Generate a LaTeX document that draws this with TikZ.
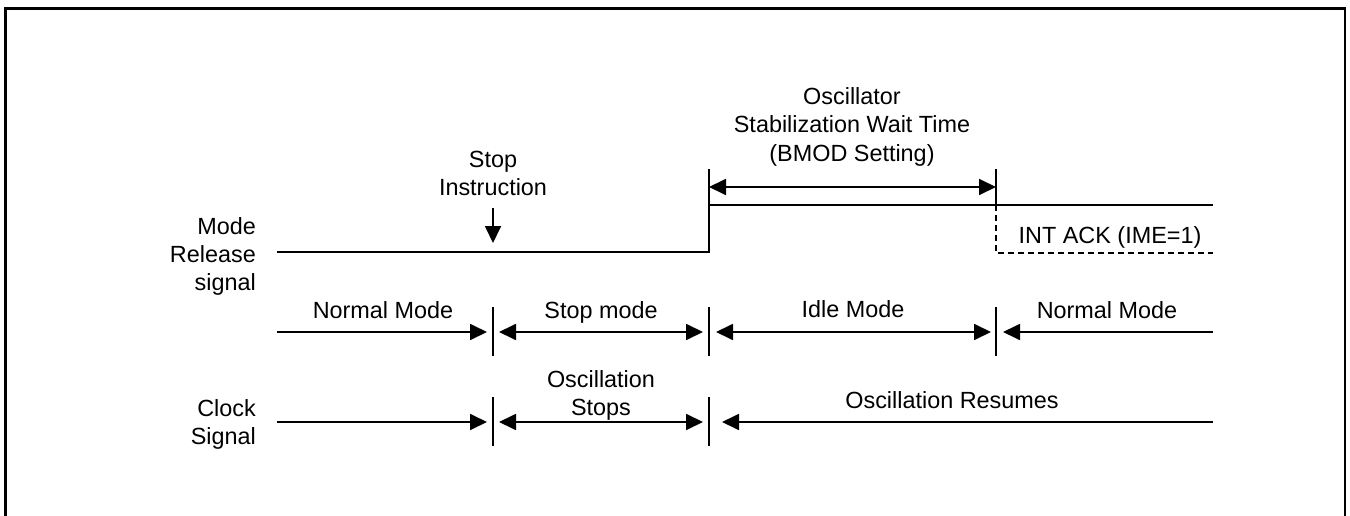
\documentclass[tikz,border=0pt]{standalone}
\usepackage{fontspec}
\setmainfont{Liberation Sans}
\usetikzlibrary{arrows.meta}
\begin{document}
\begin{tikzpicture}[x=1pt,y=-1pt,
  wire/.style={line width=1.8pt},
  arr/.style={wire,-{Triangle[length=17pt,width=16pt]}},
  darr/.style={wire,{Triangle[length=17pt,width=16pt]}-{Triangle[length=17pt,width=16pt]}},
  dash6/.style={wire,dash pattern=on 6pt off 4pt},
  lbl/.style={inner sep=0pt,font=\fontsize{23.4}{28.3}\selectfont},
]
\useasboundingbox (0,0) rectangle (1350,516);
% frame (open at bottom)
\draw[line width=2.7pt] (5.3,530) -- (5.3,8.7) -- (1345,8.7) -- (1345,530);

% labels on the left
\node[lbl,anchor=north east,align=right] (mrs) at (256,217) {Mode\\Release\\signal};
\node[lbl,anchor=north east,align=right] (clk) at (256,399) {Clock\\Signal};

% mode release signal waveform
\coordinate (s0) at (277,252);
\coordinate (s1) at (709,252);
\coordinate (s2) at (709,169);
\coordinate (s3) at (709,205);
\coordinate (s4) at (1213,205);
\coordinate (t3a) at (996,169);
\coordinate (t3b) at (996,205);
\coordinate (t3c) at (996,253);
\coordinate (s5) at (1213,253);
\draw[wire] (s0) -- (s1) -- (s2);
\draw[wire] (s3) -- (s4);
\draw[wire] (t3a) -- (t3b);
\draw[dash6] (t3b) -- (t3c) -- (s5);
\draw[darr] (709,187) -- (996,187);

\node[lbl,anchor=north,align=center] (osw) at (852,87.5) {Oscillator\\Stabilization Wait Time\\(BMOD Setting)};
\node[lbl,anchor=north,align=center] (stopi) at (493,151) {Stop\\Instruction};
\coordinate (sa) at (493,208);
\coordinate (sb) at (493,243);
\draw[arr] (sa) -- (sb);
\node[lbl,anchor=base] (int) at (1110,243) {INT ACK (IME=1)};

% row 2: modes
\foreach \x in {493,709,996} \draw[wire] (\x,307) -- (\x,356);
\draw[arr] (277,332) -- (487,332);
\draw[darr] (499,332) -- (703,332);
\draw[darr] (716,332) -- (991,332);
\draw[arr] (1213,332) -- (1003,332);
\node[lbl,anchor=base] (nm1) at (383,318) {Normal Mode};
\node[lbl,anchor=base] (stm) at (601,318) {Stop mode};
\node[lbl,anchor=base] (idm) at (853,317) {Idle Mode};
\node[lbl,anchor=base] (nm2) at (1107,318) {Normal Mode};

% row 3: clock
\foreach \x in {493,709} \draw[wire] (\x,397) -- (\x,446);
\draw[arr] (277,422) -- (487,422);
\draw[darr] (499,422) -- (703,422);
\draw[arr] (1213,422) -- (722,422);
\node[lbl,anchor=north,align=center] (ocs) at (601,370) {Oscillation\\Stops};
\node[lbl,anchor=base] (ocr) at (952,408) {Oscillation Resumes};
\end{tikzpicture}
\end{document}
